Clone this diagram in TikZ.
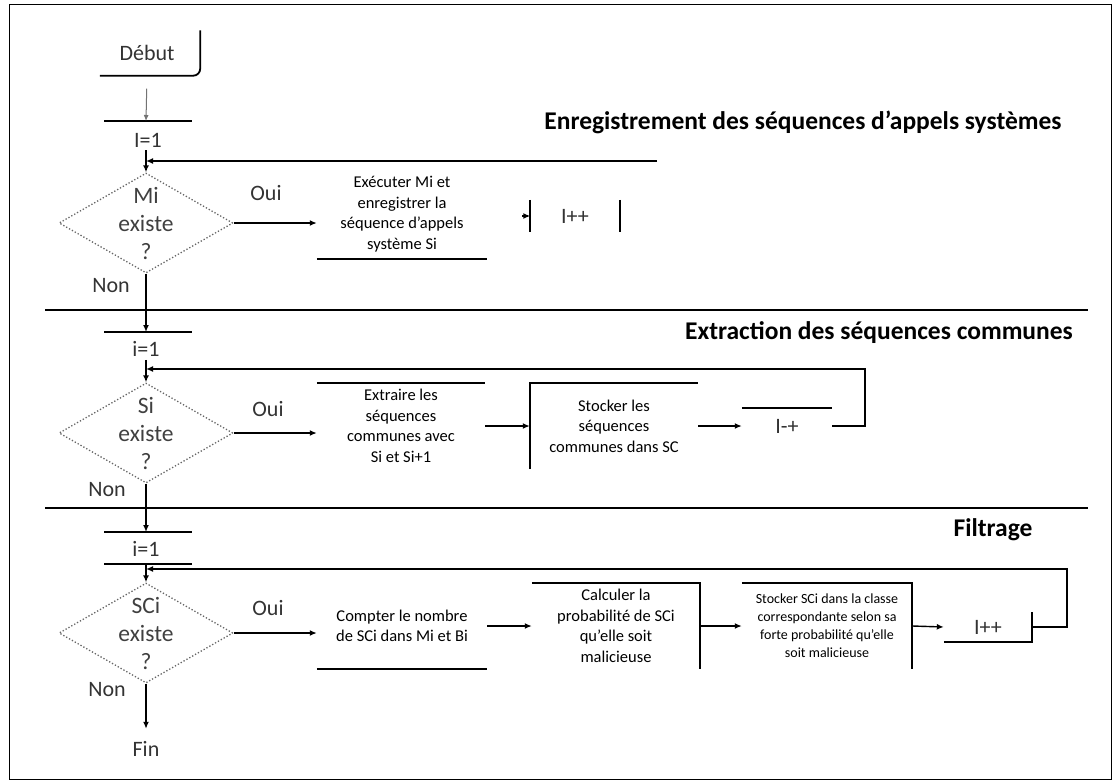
\documentclass[tikz,border=0pt]{standalone}
\usepackage{fontspec}
\setmainfont{Carlito}
\usetikzlibrary{arrows.meta,shapes.geometric}

\begin{document}
\begin{tikzpicture}[x=1pt,y=-1pt,
  rule/.style={line width=1.8pt},
  flow/.style={line width=1.4pt,-{Latex[length=7pt,width=6pt]}},
  loopflow/.style={line width=1.8pt,-{Latex[length=7pt,width=6pt]}},
  decision/.style={diamond,draw=black!60,dotted,line width=1.3pt,
    minimum width=174pt,minimum height=100pt,inner sep=0pt},
  lbl/.style={font=\fontsize{22}{26}\selectfont,text=black!80,inner sep=0pt},
  dtext/.style={font=\fontsize{23.5}{28}\selectfont,align=center,text=black!75,inner sep=0pt},
  boxtext/.style={font=\fontsize{16.5}{20.5}\selectfont,align=center,inner sep=0pt},
  smalltext/.style={font=\fontsize{14}{18}\selectfont,align=center,inner sep=0pt},
  title/.style={font=\bfseries\fontsize{25.5}{28}\selectfont,inner sep=0pt},
]
\useasboundingbox (0,0) rectangle (1119,781);
\draw[line width=1pt] (9,5) rectangle (1111,779);

% ---------- Enregistrement ----------
\node[lbl,minimum width=106pt,minimum height=45pt] (debut) at (147,53) {Début};
\draw[rule,rounded corners=7pt] (debut.north east) -- (debut.south east) -- ([xshift=6pt]debut.south west);
\coordinate (bar1) at (146,121);
\draw[rule] ([xshift=-42pt]bar1) -- ([xshift=46pt]bar1);
\draw[line width=1pt,black!55,-{Latex[length=6pt,width=5pt]},shorten <=13pt] (debut.south) -- (bar1);
\node[lbl] (i1) at (148,140) {I=1};
\node[decision] (d1) at (146,223) {};
\node[dtext] (d1t) at (146,223) {Mi\\existe\\?};
\draw[flow,shorten <=3pt] (i1.south -| d1.north) -- (d1.north);
\coordinate (m1) at (146,161);
\coordinate (back1) at (657,161);
\draw[loopflow] (back1) -- (m1);
\node[lbl] (oui1) at (266,193) {Oui};
\node[boxtext,minimum width=170pt,minimum height=90pt] (b1) at (402,214)
  {Exécuter Mi et\\enregistrer la\\séquence d'appels\\système Si};
\draw[flow] (d1.east) -- (d1.east -| b1.west);
\draw[rule] (b1.south west) -- (b1.south east);
\node[lbl,minimum width=89pt,minimum height=32pt] (ip1) at (575,216) {I++};
\draw[rule] (ip1.north west) -- (ip1.south west);
\draw[rule] (ip1.north east) -- (ip1.south east);
\coordinate (tip1) at (522,216);
\draw[flow] (tip1) -- (ip1.west);
\node[title] (h1) at (803,122) {Enregistrement des séquences d'appels systèmes};
\node[lbl] (non1) at (111,286) {Non};

% ---------- Extraction ----------
\coordinate (s1l) at (45,310);
\coordinate (s1r) at (1088,310);
\draw[rule] (s1l) -- (s1r);
\coordinate (bar2) at (146,332);
\draw[rule] ([xshift=-42pt]bar2) -- ([xshift=46pt]bar2);
\draw[flow] (d1.south) -- (bar2);
\node[lbl] (i2) at (146,349) {i=1};
\node[decision] (d2) at (146,433) {};
\node[dtext] (d2t) at (146,433) {Si\\existe\\?};
\draw[flow,shorten <=3pt] (i2.south) -- (d2.north);
\coordinate (m2) at (146,369);
\node[lbl] (oui2) at (268,409) {Oui};
\node[boxtext,minimum width=168pt,minimum height=86pt] (b2) at (401,426)
  {Extraire les\\séquences\\communes avec\\Si et Si+1};
\draw[flow] (d2.east) -- (d2.east -| b2.west);
\draw[rule] (b2.north west) -- (b2.north east);
\node[boxtext,minimum width=168pt,minimum height=86pt] (b3) at (614,426)
  {Stocker les\\séquences\\communes dans SC};
\draw[flow] (b2.east) -- (b3.west);
\draw[rule] (b3.south west) -- (b3.north west) -- (b3.north east);
\node[lbl,minimum width=90pt,minimum height=36pt] (ip2) at (787,426) {I-+};
\draw[flow] (b3.east) -- (ip2.west);
\draw[rule] (ip2.north west) -- (ip2.north east);
\draw[loopflow] (ip2.east) -- ++(33,0) |- (m2);
\node[title] (h2) at (879,333) {Extraction des séquences communes};
\node[lbl] (non2) at (107,490) {Non};

% ---------- Filtrage ----------
\coordinate (s2l) at (45,508);
\coordinate (s2r) at (1088,508);
\draw[rule] (s2l) -- (s2r);
\coordinate (bar3) at (146,532);
\coordinate (bar3b) at (146,564);
\draw[rule] ([xshift=-42pt]bar3) -- ([xshift=46pt]bar3);
\draw[rule] ([xshift=-42pt]bar3b) -- ([xshift=46pt]bar3b);
\draw[flow] (d2.south) -- (bar3);
\node[lbl] (i3) at (146,549) {i=1};
\node[decision] (d3) at (146,633) {};
\node[dtext] (d3t) at (146,633) {SCi\\existe\\?};
\draw[flow] (bar3b) -- (d3.north);
\coordinate (m3) at (146,569);
\node[lbl] (oui3) at (268,608) {Oui};
\node[boxtext,minimum width=170pt,minimum height=86pt] (b4) at (402,626)
  {Compter le nombre\\de SCi dans Mi et Bi};
\draw[flow] (d3.east) -- (d3.east -| b4.west);
\draw[rule] (b4.south west) -- (b4.south east);
\node[boxtext,minimum width=168pt,minimum height=86pt] (b5) at (616,626)
  {Calculer la\\probabilité de SCi\\qu'elle soit\\malicieuse};
\draw[flow] (b4.east) -- (b5.west);
\draw[rule] (b5.north west) -- (b5.north east) -- (b5.south east);
\node[smalltext,minimum width=170pt,minimum height=86pt] (b6) at (827,626)
  {Stocker SCi dans la classe\\correspondante selon sa\\forte probabilité qu'elle\\soit malicieuse};
\draw[flow] (b5.east) -- (b6.west);
\draw[rule] (b6.north west) -- (b6.north east) -- (b6.south east);
\node[lbl,minimum width=88pt,minimum height=30pt] (ip3) at (988,627) {I++};
\draw[flow] (b6.east) -- (ip3.west);
\draw[rule] (ip3.south west) -- (ip3.south east) -- (ip3.north east);
\draw[loopflow] (ip3.east) -- ++(35,0) |- (m3);
\node[title] (h3) at (993,530) {Filtrage};
\node[lbl] (non3) at (107,690) {Non};
\node[lbl,minimum height=40pt] (fin) at (146,749) {Fin};
\draw[flow] (d3.south) -- (fin.north);
\end{tikzpicture}
\end{document}
